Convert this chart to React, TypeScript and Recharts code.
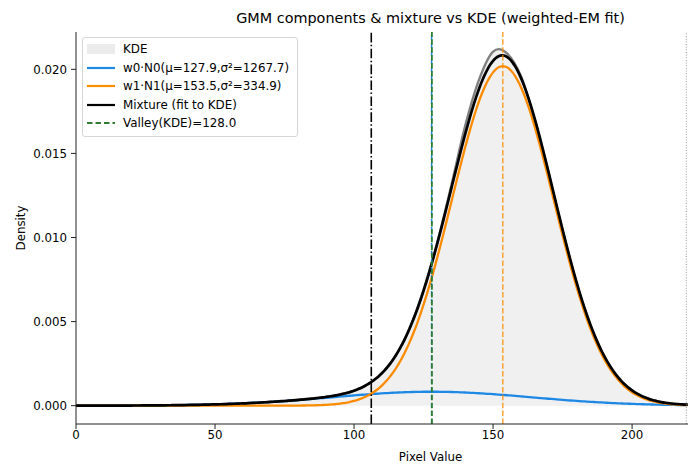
import React from 'react';
import { ComposedChart, Area, Line, XAxis, YAxis, ReferenceLine, Legend } from 'recharts';

const FONT = '"DejaVu Sans", Verdana, sans-serif';

// KDE of the pixel values, sampled along the grey-level axis
const kdeX = [0, 10, 20, 30, 40, 50, 60, 70, 80, 90, 95, 100, 105, 110, 115, 120, 125, 130, 135, 140, 145, 150, 152, 155, 160, 165, 170, 175, 180, 185, 190, 195, 200, 205, 210, 215, 220];
const kdeY = [0.000002, 0.000004, 0.000009, 0.00002, 0.00004, 0.000078, 0.000136, 0.00022, 0.00034, 0.00052, 0.00066, 0.00089, 0.00128, 0.00193, 0.00298, 0.00462, 0.00688, 0.00975, 0.0131, 0.01665, 0.0194, 0.02105, 0.0212, 0.02095, 0.0196, 0.017, 0.0138, 0.0104, 0.0073, 0.0048, 0.00292, 0.00166, 0.0009, 0.00046, 0.00023, 0.00011, 0.00006];

// weighted-EM fit, two components
const compMu = [127.9, 153.5];
const compVar = [1267.7, 334.9];
const compW = [0.074, 0.926];

const threshold = 106.2; // where w0·N0 and w1·N1 cross
const valley = 128.0;
const pixelMax = 219.5;

const xTicks = [0, 50, 100, 150, 200];
const yTicks = [0, 0.005, 0.01, 0.015, 0.02];

const BLUE = '#1e88e5';
const ORANGE = '#fb8c00';
const GREEN = '#2e7d32';

const normalPdf = (x: number, mu: number, v: number) =>
  Math.exp(-((x - mu) ** 2) / (2 * v)) / Math.sqrt(2 * Math.PI * v);

type Row = { x: number; kde?: number; c0: number; c1: number; mix: number };

const rows: Row[] = [];
for (let x = 0; x <= 220; x++) {
  const c0 = compW[0] * normalPdf(x, compMu[0], compVar[0]);
  const c1 = compW[1] * normalPdf(x, compMu[1], compVar[1]);
  const row: Row = { x, c0, c1, mix: c0 + c1 };
  const k = kdeX.indexOf(x);
  if (k >= 0) row.kde = kdeY[k];
  rows.push(row);
}

const legendItems = [
  { label: 'KDE', kind: 'patch', color: '#ececec' },
  { label: `w0·N0(μ=${compMu[0]},σ²=${compVar[0]})`, kind: 'line', color: BLUE },
  { label: `w1·N1(μ=${compMu[1]},σ²=${compVar[1]})`, kind: 'line', color: ORANGE },
  { label: 'Mixture (fit to KDE)', kind: 'line', color: '#000' },
  { label: `Valley(KDE)=${valley.toFixed(1)}`, kind: 'dash', color: GREEN },
];

const LegendBox = () => (
  <div
    style={{
      border: '1px solid #d6d6d6',
      borderRadius: 3,
      background: 'rgba(255,255,255,0.85)',
      padding: '2px 8px 3px 4px',
      fontFamily: FONT,
      fontSize: 11.9,
      color: '#000',
    }}
  >
    {legendItems.map((it) => (
      <div key={it.label} style={{ display: 'flex', alignItems: 'center', height: 18.5, whiteSpace: 'nowrap' }}>
        <svg width={28} height={12} style={{ marginRight: 8 }}>
          {it.kind === 'patch' && <rect x={0} y={1} width={28} height={10} fill={it.color} />}
          {it.kind === 'line' && <line x1={0} x2={28} y1={6} y2={6} stroke={it.color} strokeWidth={2.2} />}
          {it.kind === 'dash' && (
            <line x1={0} x2={28} y1={6} y2={6} stroke={it.color} strokeWidth={1.8} strokeDasharray="5.5 3" />
          )}
        </svg>
        <span>{it.label}</span>
      </div>
    ))}
  </div>
);

const tickStyle = { fontSize: 11.8, fill: '#000', fontFamily: FONT };

export default function App() {
  return (
    <div
      style={{
        position: 'absolute',
        left: 0,
        top: 0,
        width: 688,
        height: 466,
        overflow: 'hidden',
        background: '#fff',
        fontFamily: FONT,
      }}
    >
      <div
        style={{
          position: 'absolute',
          left: 76,
          width: 709,
          top: 10,
          textAlign: 'center',
          fontSize: 14.4,
          whiteSpace: 'nowrap',
          color: '#000',
        }}
      >
        GMM components &amp; mixture vs KDE (weighted-EM fit)
      </div>
      <ComposedChart width={790} height={466} data={rows} margin={{ top: 32, right: 5, bottom: 0, left: 0 }}>
        <XAxis
          dataKey="x"
          type="number"
          domain={[0, 255]}
          ticks={xTicks}
          allowDataOverflow
          height={42}
          tickSize={5}
          tickMargin={2}
          stroke="#222"
          tick={tickStyle}
          tickLine={{ stroke: '#222' }}
          label={{ value: 'Pixel Value', position: 'insideBottom', offset: 5, style: { ...tickStyle } }}
        />
        <XAxis xAxisId="top" orientation="top" type="number" domain={[0, 255]} height={0} tick={false} tickLine={false} stroke="#222" />
        <YAxis
          type="number"
          domain={[-0.00109, 0.02222]}
          ticks={yTicks}
          allowDataOverflow
          width={76}
          tickSize={5}
          tickMargin={4}
          stroke="#222"
          tick={tickStyle}
          tickFormatter={(v: number) => v.toFixed(3)}
          label={{ value: 'Density', angle: -90, position: 'insideLeft', offset: 21, style: { ...tickStyle, textAnchor: 'middle' } }}
        />
        <Legend layout="vertical" align="center" verticalAlign="middle" wrapperStyle={{ left: 82, top: 37, width: 'auto' }} content={<LegendBox />} />
        <Area
          type="monotone"
          dataKey="kde"
          connectNulls
          stroke="none"
          fill="#f0f0f0"
          fillOpacity={1}
          isAnimationActive={false}
        />
        <Line type="monotone" dataKey="kde" connectNulls dot={false} stroke="#808080" strokeWidth={2.4} isAnimationActive={false} />
        <Line type="monotone" dataKey="c0" dot={false} stroke={BLUE} strokeWidth={2.3} isAnimationActive={false} />
        <Line type="monotone" dataKey="c1" dot={false} stroke={ORANGE} strokeWidth={2.3} isAnimationActive={false} />
        <Line type="monotone" dataKey="mix" dot={false} stroke="#000" strokeWidth={2.7} isAnimationActive={false} />
        <ReferenceLine x={threshold} stroke="#000" strokeWidth={1.6} strokeDasharray="9.6 2.4 1.5 2.4" />
        <ReferenceLine x={compMu[0]} stroke={BLUE} strokeWidth={1.5} strokeDasharray="5 3" />
        <ReferenceLine x={valley} stroke={GREEN} strokeWidth={1.8} strokeDasharray="5.5 2.4" />
        <ReferenceLine x={compMu[1]} stroke={ORANGE} strokeOpacity={0.8} strokeWidth={1.5} strokeDasharray="5.5 2.4" />
        <ReferenceLine x={pixelMax} stroke="#9a9a9a" strokeWidth={1} strokeDasharray="1 1.65" />
      </ComposedChart>
    </div>
  );
}
